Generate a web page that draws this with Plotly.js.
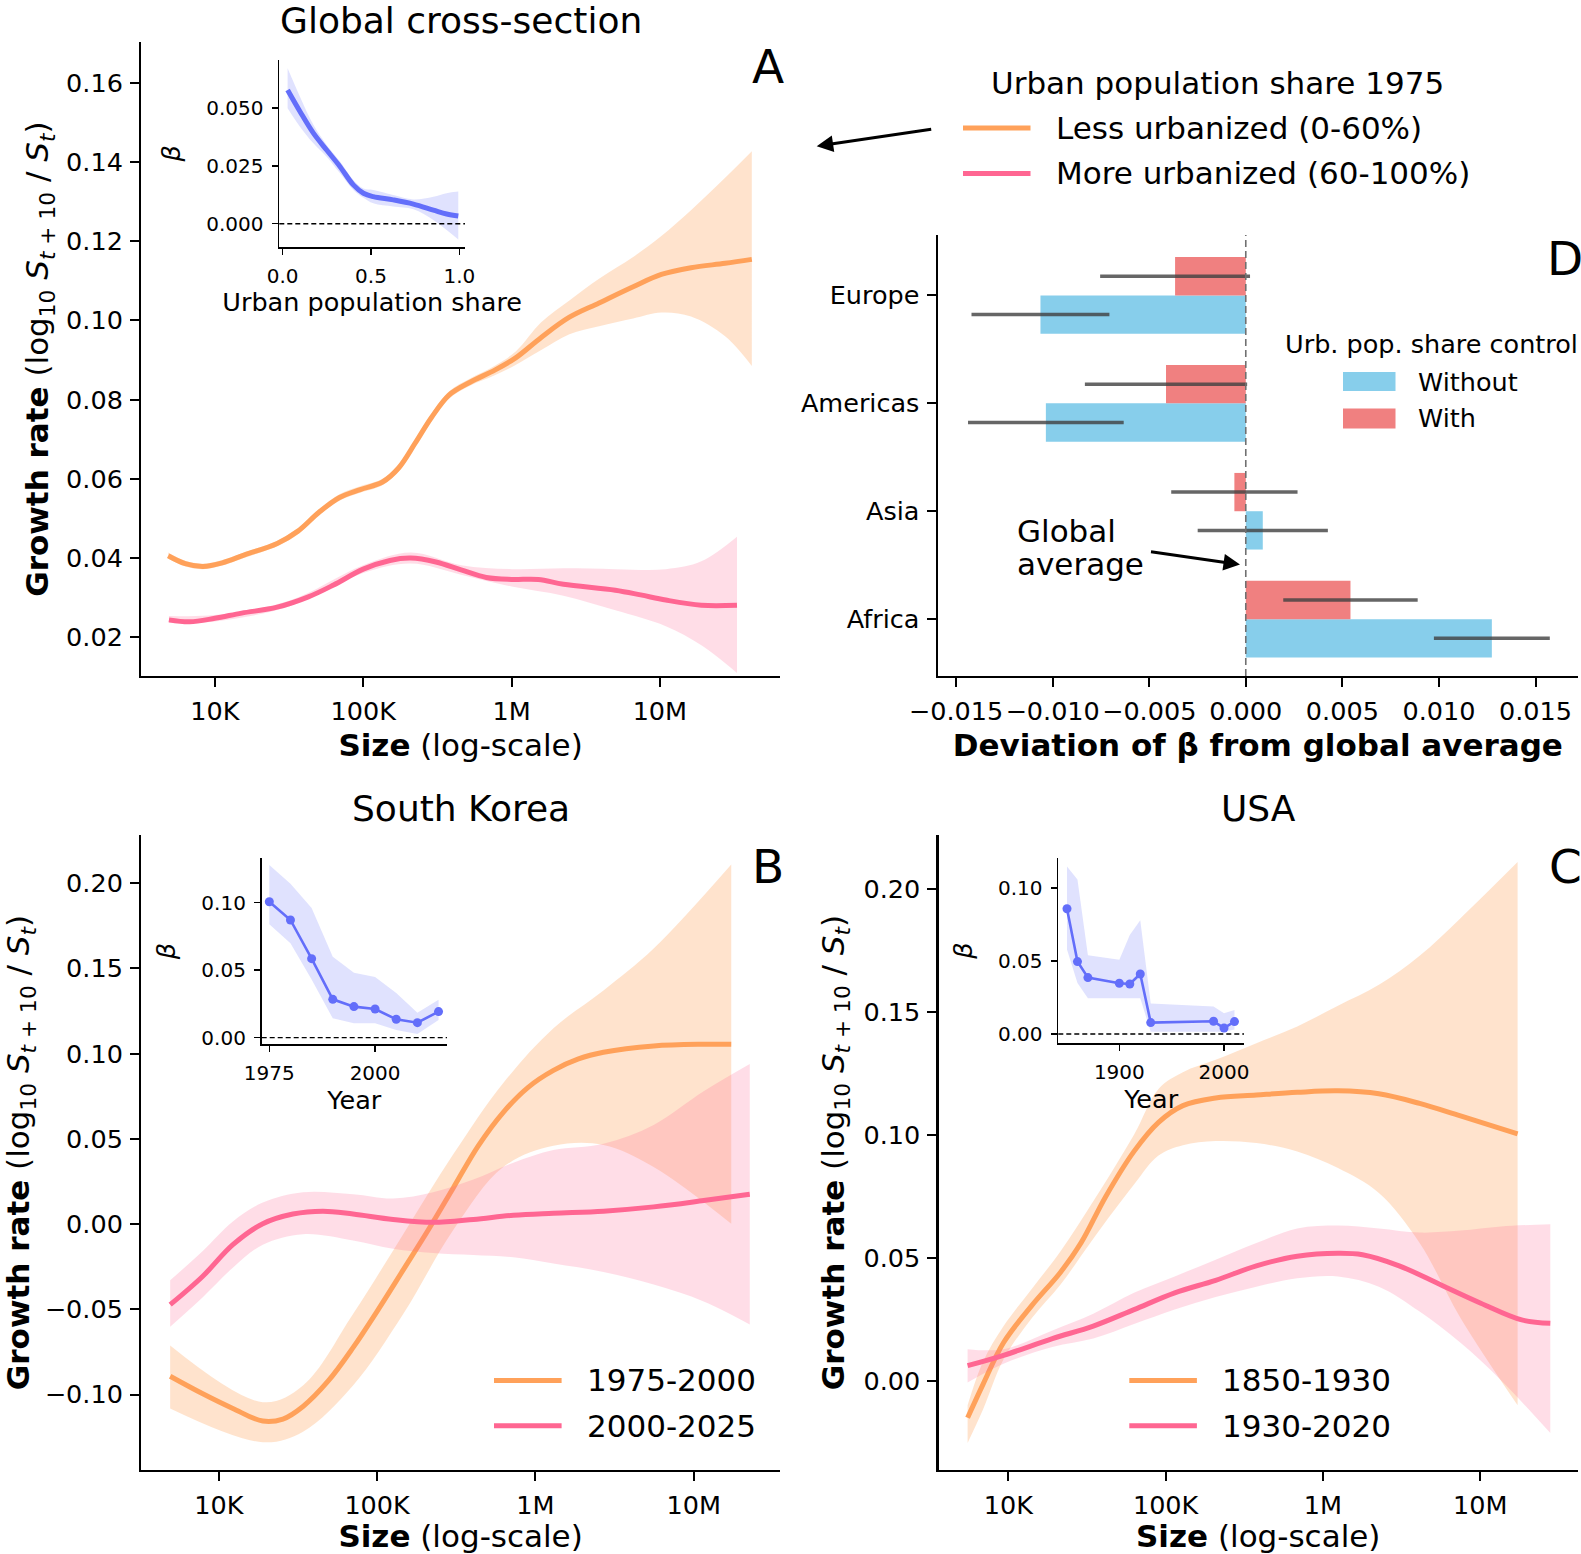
<!DOCTYPE html>
<html><head><meta charset="utf-8">
<script src="https://cdn.plot.ly/plotly-3.0.1.min.js"></script>
<style>html,body{margin:0;padding:0;background:#fff}#chart{width:1581px;height:1554px}</style>
</head><body><div id="chart"></div>
<script>
// ---------------- DATA ----------------
// Panel A: global cross-section (x = log10 size)
const logSizeA_less = [3.685,3.80,3.92,4.05,4.20,4.42,4.56,4.70,4.84,4.98,5.13,5.24,5.35,5.46,5.58,5.72,5.89,6.03,6.20,6.39,6.59,6.82,7.01,7.21,7.44,7.62];
const growthA_less  = [0.0406,0.0386,0.0379,0.0388,0.0408,0.0437,0.0468,0.0515,0.0553,0.0573,0.0592,0.0628,0.0690,0.0755,0.0812,0.0844,0.0875,0.0906,0.0957,0.1008,0.1044,0.1085,0.1116,0.1133,0.1144,0.1154];
const upperA_less   = [0.0414,0.0393,0.0386,0.0395,0.0415,0.0444,0.0476,0.0523,0.0561,0.0581,0.0600,0.0637,0.0699,0.0764,0.0821,0.0853,0.0886,0.0922,0.0995,0.1050,0.1105,0.1160,0.1213,0.1278,0.1360,0.1427];
const lowerA_less   = [0.0398,0.0379,0.0372,0.0381,0.0401,0.0430,0.0460,0.0507,0.0545,0.0565,0.0584,0.0619,0.0681,0.0746,0.0803,0.0835,0.0862,0.0888,0.0925,0.0965,0.0985,0.1005,0.1020,0.1010,0.0960,0.0885];
const logSizeA_more = [3.69,3.83,4.0,4.18,4.42,4.63,4.80,5.0,5.18,5.32,5.49,5.66,5.83,6.0,6.18,6.35,6.70,6.87,7.04,7.28,7.52];
const growthA_more  = [0.0244,0.0239,0.0248,0.0261,0.0276,0.0302,0.0332,0.0372,0.0394,0.0400,0.0390,0.0370,0.0351,0.0346,0.0346,0.0334,0.0319,0.0307,0.0294,0.0281,0.0281];
const bandLogA_more = [3.69,4.0,4.5,5.0,5.32,5.66,6.0,6.35,6.7,7.04,7.28,7.52];
const upperA_more   = [0.0254,0.0256,0.0292,0.0382,0.0414,0.0382,0.0372,0.0374,0.0372,0.0372,0.0392,0.0454];
const lowerA_more   = [0.0236,0.0240,0.0278,0.0362,0.0386,0.0358,0.0328,0.0305,0.0268,0.0228,0.0180,0.0110];

// Inset A: beta vs urban population share
const urbanShare     = [0.028,0.098,0.174,0.249,0.325,0.40,0.457,0.513,0.626,0.74,0.853,0.928,0.994];
const betaUrban      = [0.0579,0.0486,0.0392,0.0319,0.0247,0.0168,0.0132,0.0117,0.0103,0.0085,0.0059,0.0042,0.0033];
const betaUrbanUpper = [0.0673,0.055,0.0428,0.0341,0.0269,0.0189,0.0152,0.0146,0.0124,0.0105,0.0117,0.0132,0.0139];
const betaUrbanLower = [0.050,0.042,0.0348,0.029,0.0218,0.0146,0.0112,0.0088,0.0074,0.0062,0.0016,-0.0027,-0.0068];

// Panel B: South Korea
const logSizeB_early = [3.693,3.899,4.089,4.278,4.405,4.532,4.69,4.848,5.006,5.165,5.323,5.481,5.639,5.797,5.956,6.114,6.272,6.43,6.747,7.063,7.237];
const growthB_early  = [-0.0893,-0.0996,-0.1082,-0.1156,-0.1144,-0.107,-0.0922,-0.0725,-0.0503,-0.0269,-0.0035,0.0212,0.0459,0.0656,0.0804,0.0902,0.0969,0.1008,0.1045,0.1055,0.1055];
const bandLogB_early = [3.693,4.278,4.532,4.848,5.165,5.481,5.797,6.114,6.43,6.747,7.237];
const upperB_early   = [-0.0713,-0.1045,-0.0947,-0.0528,-0.0059,0.0409,0.0828,0.1149,0.1371,0.1617,0.211];
const lowerB_early   = [-0.1082,-0.128,-0.1218,-0.0947,-0.0528,-0.0035,0.0335,0.0459,0.0464,0.0335,0.0002];
const logSizeB_late  = [3.693,3.899,4.089,4.278,4.468,4.658,4.848,5.101,5.354,5.608,5.861,6.114,6.43,6.747,7.063,7.354];
const growthB_late   = [-0.0473,-0.0306,-0.0121,0.0002,0.0059,0.0076,0.0059,0.0027,0.001,0.0027,0.0052,0.0064,0.0076,0.0101,0.0138,0.0175];
const bandLogB_late  = [3.693,3.899,4.089,4.278,4.532,4.848,5.101,5.354,5.608,5.861,6.114,6.43,6.747,7.063,7.354];
const upperB_late    = [-0.033,-0.0158,0.0015,0.0126,0.0187,0.0175,0.015,0.0187,0.0261,0.036,0.0434,0.0471,0.0582,0.0779,0.0939];
const lowerB_late    = [-0.0602,-0.0429,-0.0256,-0.0121,-0.0059,-0.0096,-0.0145,-0.017,-0.0182,-0.0195,-0.0232,-0.0281,-0.0355,-0.0454,-0.0589];

// Inset B: beta by year (South Korea)
const yearsKR     = [1975,1980,1985,1990,1995,2000,2005,2010,2015];
const betaKR      = [0.1007,0.0872,0.0585,0.0284,0.0230,0.0212,0.0136,0.0111,0.0193];
const betaKRUpper = [0.128,0.114,0.096,0.060,0.048,0.045,0.033,0.0185,0.028];
const betaKRLower = [0.084,0.070,0.043,0.0143,0.0106,0.0106,0.0057,0.0027,0.013];

// Panel C: USA
const logSizeC_early = [3.741,3.839,3.969,4.15,4.332,4.462,4.617,4.799,4.955,5.11,5.318,5.577,5.837,6.096,6.356,6.615,6.875,7.238];
const growthC_early  = [-0.0148,-0.0012,0.0157,0.0309,0.0444,0.0563,0.0749,0.0935,0.1053,0.1121,0.1152,0.1164,0.1175,0.1181,0.1169,0.113,0.1079,0.1006];
const bandLogC_early = [3.741,3.839,3.969,4.15,4.332,4.54,4.799,4.955,5.11,5.318,5.577,5.837,6.096,6.356,6.615,6.875,7.238];
const upperC_early   = [-0.0097,0.008,0.0224,0.0377,0.0529,0.0732,0.1003,0.1189,0.1257,0.1307,0.1375,0.1443,0.1527,0.1612,0.173,0.1883,0.2111];
const lowerC_early   = [-0.025,-0.0114,0.0089,0.0258,0.0394,0.058,0.08,0.0918,0.096,0.0977,0.0969,0.0935,0.0867,0.0766,0.0563,0.0258,-0.0097];
const logSizeC_late  = [3.741,3.969,4.28,4.54,4.799,5.058,5.318,5.577,5.837,6.096,6.252,6.485,6.745,7.004,7.264,7.446];
const growthC_late   = [0.0064,0.0106,0.0174,0.0225,0.0292,0.0360,0.0411,0.047,0.0509,0.0521,0.0515,0.047,0.0394,0.0318,0.025,0.0236];
const bandLogC_late  = [3.741,3.969,4.28,4.54,4.799,5.058,5.318,5.577,5.837,6.096,6.356,6.615,6.875,7.134,7.446];
const upperC_late    = [0.0131,0.0131,0.0207,0.0275,0.036,0.0427,0.0495,0.0563,0.0622,0.0634,0.0622,0.0605,0.0613,0.063,0.0639];
const lowerC_late    = [-0.0004,0.0072,0.014,0.0174,0.0233,0.0292,0.0343,0.0385,0.0419,0.0427,0.0385,0.0284,0.0157,0.0004,-0.021];

// Inset C: beta by year (USA)
const yearsUS     = [1850,1860,1870,1900,1910,1920,1930,1990,2000,2010];
const betaUS      = [0.086,0.0497,0.0387,0.0348,0.0343,0.0412,0.0078,0.0087,0.0041,0.0085];
const betaUSUpper = [0.115,0.106,0.054,0.051,0.068,0.078,0.021,0.0188,0.0142,0.0165];
const betaUSLower = [0.058,0.035,0.0245,0.0245,0.0245,0.0245,0.0016,0.0016,0.0016,0.003];

// Panel D: deviation of beta by region
const regions        = ['Europe','Americas','Asia','Africa'];
const devWithout     = [-0.01063,-0.01035,0.00088,0.01274];
const devWithoutErr  = [0.00357,0.00403,0.00337,0.0030];
const devWith        = [-0.00366,-0.00413,-0.00059,0.00542];
const devWithErr     = [0.00388,0.0042,0.00327,0.00348];

// Tick labels
const sizeTickVals = [4,5,6,7];
const sizeTickText = ['10K','100K','1M','10M'];
const devTickVals  = [-0.015,-0.010,-0.005,0,0.005,0.010,0.015];
const devTickText  = ['\u22120.015','\u22120.010','\u22120.005','0.000','0.005','0.010','0.015'];
const growthTickValsA = [0.02,0.04,0.06,0.08,0.10,0.12,0.14,0.16];
const growthTickValsB = [-0.10,-0.05,0,0.05,0.10,0.15,0.20];
const growthTickTextB = ['\u22120.10','\u22120.05','0.00','0.05','0.10','0.15','0.20'];
const growthTickValsC = [0,0.05,0.10,0.15,0.20];

// ---------------- STYLE / LAYOUT ----------------
const W=1581,H=1554,F='DejaVu Sans, sans-serif';
const px=v=>v/W, py=v=>1-v/H;
const ORANGE='#FFA15A', PINK='#FF6692', BLUE='#636EFA';
const ORANGE_BAND='rgba(255,161,90,0.3)', PINK_BAND='rgba(255,102,146,0.22)', BLUE_BAND='rgba(99,110,250,0.2)';
const D_BLUE='#87CEEB', D_RED='#F08080';

function band(x,up,lo,color,xa,ya,shape){
  return [
    {type:'scatter',mode:'lines',x:x,y:lo,xaxis:xa,yaxis:ya,line:{width:0,shape:shape,smoothing:1},hoverinfo:'skip',showlegend:false},
    {type:'scatter',mode:'lines',x:x,y:up,xaxis:xa,yaxis:ya,line:{width:0,shape:shape,smoothing:1},fill:'tonexty',fillcolor:color,hoverinfo:'skip',showlegend:false}
  ];
}
function curve(x,y,color,w,xa,ya,name,shape){
  return {type:'scatter',mode:'lines',x:x,y:y,xaxis:xa,yaxis:ya,name:name,line:{color:color,width:w,shape:shape,smoothing:1},showlegend:false};
}
function dotted(x,y,xa,ya,name){
  return {type:'scatter',mode:'lines+markers',x:x,y:y,xaxis:xa,yaxis:ya,name:name,line:{color:BLUE,width:2.6},marker:{color:BLUE,size:9},showlegend:false};
}

const traces = [].concat(
  // A
  band(logSizeA_less,upperA_less,lowerA_less,ORANGE_BAND,'x','y','spline'),
  [curve(logSizeA_less,growthA_less,ORANGE,5,'x','y','Less urbanized (0-60%)','spline')],
  band(bandLogA_more,upperA_more,lowerA_more,PINK_BAND,'x','y','spline'),
  [curve(logSizeA_more,growthA_more,PINK,5,'x','y','More urbanized (60-100%)','spline')],
  // inset A
  band(urbanShare,betaUrbanUpper,betaUrbanLower,BLUE_BAND,'x2','y2','spline'),
  [curve(urbanShare,betaUrban,BLUE,5,'x2','y2','beta','spline')],
  // D
  [{type:'bar',orientation:'h',name:'Without',x:devWithout,y:regions,xaxis:'x3',yaxis:'y3',marker:{color:D_BLUE},
    error_x:{type:'data',array:devWithoutErr,visible:true,color:'rgba(64,64,64,0.8)',thickness:3.5,width:0},showlegend:false},
   {type:'bar',orientation:'h',name:'With',x:devWith,y:regions,xaxis:'x3',yaxis:'y3',marker:{color:D_RED},
    error_x:{type:'data',array:devWithErr,visible:true,color:'rgba(64,64,64,0.8)',thickness:3.5,width:0},showlegend:false}],
  // B
  band(bandLogB_early,upperB_early,lowerB_early,ORANGE_BAND,'x4','y4','spline'),
  [curve(logSizeB_early,growthB_early,ORANGE,5,'x4','y4','1975-2000','spline')],
  band(bandLogB_late,upperB_late,lowerB_late,PINK_BAND,'x4','y4','spline'),
  [curve(logSizeB_late,growthB_late,PINK,5,'x4','y4','2000-2025','spline')],
  // inset B
  band(yearsKR,betaKRUpper,betaKRLower,BLUE_BAND,'x5','y5','linear'),
  [dotted(yearsKR,betaKR,'x5','y5','beta')],
  // C
  band(bandLogC_early,upperC_early,lowerC_early,ORANGE_BAND,'x6','y6','spline'),
  [curve(logSizeC_early,growthC_early,ORANGE,5,'x6','y6','1850-1930','spline')],
  band(bandLogC_late,upperC_late,lowerC_late,PINK_BAND,'x6','y6','spline'),
  [curve(logSizeC_late,growthC_late,PINK,5,'x6','y6','1930-2020','spline')],
  // inset C
  band(yearsUS,betaUSUpper,betaUSLower,BLUE_BAND,'x7','y7','linear'),
  [dotted(yearsUS,betaUS,'x7','y7','beta')]
);

function ax(domain,range,extra){
  return Object.assign({domain:domain,range:range,showline:true,linecolor:'#000',linewidth:2.2,ticks:'outside',ticklen:9,tickwidth:2,
    tickcolor:'#000',showgrid:false,zeroline:false,fixedrange:true,automargin:false,ticklabelstandoff:2,
    tickfont:{family:F,size:25.5,color:'#000'}},extra);
}
function inax(domain,range,extra){
  return Object.assign({domain:domain,range:range,showline:true,linecolor:'#000',linewidth:1.8,ticks:'outside',ticklen:6,tickwidth:1.6,
    tickcolor:'#000',showgrid:false,zeroline:false,fixedrange:true,automargin:false,ticklabelstandoff:4,
    tickfont:{family:F,size:20,color:'#000'}},extra);
}
const TF=(s)=>({family:F,size:s,color:'#000'});
const yTitle='<b>Growth rate</b> (log<sub>10</sub> <i>S</i><sub><i>t</i> + 10</sub> / <i>S</i><sub><i>t</i></sub>)';
const xTitle='<b>Size</b> (log-scale)';

const layout = {
  width:W,height:H,margin:{l:0,r:0,t:0,b:0},paper_bgcolor:'#fff',plot_bgcolor:'rgba(0,0,0,0)',
  font:{family:F,color:'#000'},showlegend:false,barmode:'group',bargap:0.29,bargroupgap:0,
  // A main
  xaxis: ax([px(141.2),px(780)],[3.503,7.81],{anchor:'y',tickvals:sizeTickVals,ticktext:sizeTickText,title:{text:xTitle,font:TF(31),standoff:10}}),
  yaxis: ax([py(676),py(42.3)],[0.01023,0.1702],{anchor:'x',tickvals:growthTickValsA,tickformat:'.2f',title:{text:yTitle,font:TF(31),standoff:8}}),
  // A inset
  xaxis2: inax([px(279.3),px(465)],[-0.019,1.032],{anchor:'y2',tickvals:[0,0.5,1],tickformat:'.1f',title:{text:'Urban population share',font:TF(25.5),standoff:5}}),
  yaxis2: inax([py(246.7),py(60)],[-0.00997,0.0709],{anchor:'x2',tickvals:[0,0.025,0.05],tickformat:'.3f',title:{text:'<i>β</i>',font:TF(25.5),standoff:18}}),
  // D
  xaxis3: ax([px(937.7),px(1578)],[-0.01595,0.0172],{anchor:'y3',tickvals:devTickVals,ticktext:devTickText,title:{text:'<b>Deviation of β from global average</b>',font:TF(31),standoff:10}}),
  yaxis3: ax([py(676),py(235)],[-0.527,3.56],{anchor:'x3',type:'category',categoryorder:'array',categoryarray:regions.slice().reverse()}),
  // B main
  xaxis4: ax([px(141.2),px(780)],[3.51,7.545],{anchor:'y4',tickvals:sizeTickVals,ticktext:sizeTickText,title:{text:xTitle,font:TF(31),standoff:10}}),
  yaxis4: ax([py(1470),py(835)],[-0.1443,0.2283],{anchor:'x4',tickvals:growthTickValsB,ticktext:growthTickTextB,title:{text:yTitle,font:TF(31),standoff:16}}),
  // B inset
  xaxis5: inax([px(261.7),px(447)],[1973.2,2017.0],{anchor:'y5',tickvals:[1975,2000],title:{text:'Year',font:TF(25.5),standoff:6}}),
  yaxis5: inax([py(1044),py(858)],[-0.0047,0.1331],{anchor:'x5',tickvals:[0,0.05,0.10],tickformat:'.2f',title:{text:'<i>β</i>',font:TF(25.5),standoff:18}}),
  // C main
  xaxis6: ax([px(938.5),px(1578)],[3.556,7.622],{anchor:'y6',tickvals:sizeTickVals,ticktext:sizeTickText,title:{text:xTitle,font:TF(31),standoff:10}}),
  yaxis6: ax([py(1470),py(835)],[-0.036,0.2221],{anchor:'x6',tickvals:growthTickValsC,tickformat:'.2f',title:{text:yTitle,font:TF(31),standoff:10}}),
  // C inset
  xaxis7: inax([px(1058.3),px(1244)],[1841.7,2019.1],{anchor:'y7',tickvals:[1900,2000],title:{text:'Year',font:TF(25.5),standoff:6}}),
  yaxis7: inax([py(1043.3),py(858)],[-0.0064,0.1208],{anchor:'x7',tickvals:[0,0.05,0.10],tickformat:'.2f',title:{text:'<i>β</i>',font:TF(25.5),standoff:18}}),
  shapes: [
    {type:'line',xref:'x2 domain',x0:0,x1:1,yref:'y2',y0:0,y1:0,line:{color:'#000',width:1.4,dash:'5px,3px'}},
    {type:'line',xref:'x5 domain',x0:0,x1:1,yref:'y5',y0:0,y1:0,line:{color:'#000',width:1.4,dash:'5px,3px'}},
    {type:'line',xref:'x7 domain',x0:0,x1:1,yref:'y7',y0:0,y1:0,line:{color:'#000',width:1.4,dash:'5px,3px'}},
    {type:'line',xref:'x3',x0:0,x1:0,yref:'y3 domain',y0:0,y1:1,layer:'above',line:{color:'#707070',width:1.6,dash:'7px,4px'}},
    // legend A handles
    {type:'line',xref:'paper',yref:'paper',x0:px(963),x1:px(1030.5),y0:py(128),y1:py(128),line:{color:ORANGE,width:5}},
    {type:'line',xref:'paper',yref:'paper',x0:px(963),x1:px(1030.5),y0:py(173.4),y1:py(173.4),line:{color:PINK,width:5}},
    // legend B handles
    {type:'line',xref:'paper',yref:'paper',x0:px(494),x1:px(561.6),y0:py(1380.4),y1:py(1380.4),line:{color:ORANGE,width:5}},
    {type:'line',xref:'paper',yref:'paper',x0:px(494),x1:px(561.6),y0:py(1425.7),y1:py(1425.7),line:{color:PINK,width:5}},
    // legend C handles
    {type:'line',xref:'paper',yref:'paper',x0:px(1129.3),x1:px(1196.9),y0:py(1380.4),y1:py(1380.4),line:{color:ORANGE,width:5}},
    {type:'line',xref:'paper',yref:'paper',x0:px(1129.3),x1:px(1196.9),y0:py(1425.7),y1:py(1425.7),line:{color:PINK,width:5}},
    // legend D patches
    {type:'rect',xref:'paper',yref:'paper',x0:px(1343),x1:px(1395.5),y0:py(391),y1:py(372),line:{width:0},fillcolor:D_BLUE},
    {type:'rect',xref:'paper',yref:'paper',x0:px(1343),x1:px(1395.5),y0:py(428.5),y1:py(408.4),line:{width:0},fillcolor:D_RED}
  ],
  annotations: []
};

function txt(text,x,y,size,extra){
  return Object.assign({text:text,xref:'paper',yref:'paper',x:px(x),y:py(y),showarrow:false,font:TF(size),xanchor:'center',yanchor:'middle'},extra||{});
}
layout.annotations.push(
  txt('Global cross-section',460.5,20,36),
  txt('South Korea',460.5,808,36),
  txt('USA',1258,808,36),
  txt('A',767.5,66,47),
  txt('B',768,866,47),
  txt('C',1565,866,47),
  txt('D',1545,258,47,{xanchor:'left'}),
  txt('Urban population share 1975',1217,83,31),
  txt('Less urbanized (0-60%)',1053.7,128,31,{xanchor:'left'}),
  txt('More urbanized (60-100%)',1053.7,173.4,31,{xanchor:'left'}),
  txt('1975-2000',584.8,1380.4,31,{xanchor:'left'}),
  txt('2000-2025',584.8,1425.7,31,{xanchor:'left'}),
  txt('1850-1930',1220,1380.4,31,{xanchor:'left'}),
  txt('1930-2020',1220,1425.7,31,{xanchor:'left'}),
  txt('Urb. pop. share control',1282.6,344,25.5,{xanchor:'left'}),
  txt('Without',1415.7,381.5,25.5,{xanchor:'left'}),
  txt('With',1415.7,418.5,25.5,{xanchor:'left'}),
  txt('Global',1015.4,530.6,31,{xanchor:'left'}),
  txt('average',1015.4,563.8,31,{xanchor:'left'}),
  {text:'',xref:'paper',yref:'paper',x:px(816.7),y:py(146.2),showarrow:true,ax:116,ay:-17.2,axref:'pixel',ayref:'pixel',
   arrowhead:2,arrowsize:1.1,arrowwidth:3,arrowcolor:'#000'},
  {text:'',xref:'paper',yref:'paper',x:px(1240),y:py(564.6),showarrow:true,ax:-90.5,ay:-13.1,axref:'pixel',ayref:'pixel',
   arrowhead:2,arrowsize:1.1,arrowwidth:3,arrowcolor:'#000'}
);

Plotly.newPlot('chart',traces,layout,{staticPlot:true,displayModeBar:false});
</script></body></html>
